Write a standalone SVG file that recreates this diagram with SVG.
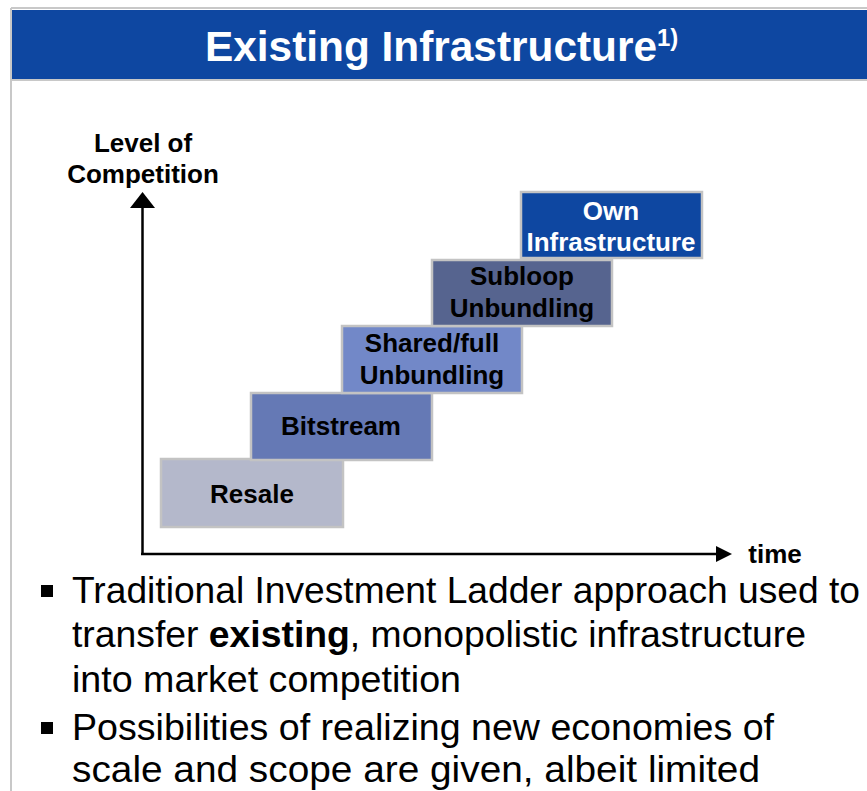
<svg xmlns="http://www.w3.org/2000/svg" width="867" height="791" viewBox="0 0 867 791">
<style>
.frame{stroke:#c8c8c8;stroke-width:2;fill:none}
.box{stroke:#c3c3c3;stroke-width:2.5}
.lbl{font-family:"Liberation Sans",Arial,sans-serif;font-weight:bold;font-size:26px;fill:#000;text-anchor:middle}
.wht{fill:#ffffff}
.body{font-family:"Liberation Sans",Arial,sans-serif;font-size:37px;fill:#000}
.axis{stroke:#000;stroke-width:2.5;fill:none}
</style>
<rect width="867" height="791" fill="#ffffff"/>
<g id="frame">
<line class="frame" x1="11" y1="8" x2="867" y2="8"/>
<line class="frame" x1="11" y1="8" x2="11" y2="791"/>
<rect x="12" y="10" width="855" height="69" fill="#0e47a1"/>
<line class="frame" x1="11" y1="80" x2="867" y2="80"/>
<text x="205" y="61" font-family="'Liberation Sans',Arial,sans-serif" font-weight="bold" font-size="42" fill="#ffffff"><tspan textLength="452" lengthAdjust="spacingAndGlyphs">Existing Infrastructure</tspan><tspan font-size="24" dy="-15">1)</tspan></text>
</g>
<g id="axes">
<line class="axis" x1="142.5" y1="555" x2="142.5" y2="206"/>
<polygon points="130,208 142.5,192 155,208" fill="#000"/>
<line class="axis" x1="141" y1="554" x2="718" y2="554"/>
<polygon points="716,546 732,554 716,562" fill="#000"/>
<text class="lbl" x="143" y="152">Level of</text>
<text class="lbl" x="143" y="183">Competition</text>
<text class="lbl" x="775" y="563" font-size="25">time</text>
</g>
<g id="resale">
<rect class="box" x="161" y="459" width="182" height="68" fill="#b4b8cb"/>
<text class="lbl" x="252" y="503">Resale</text>
</g>
<g id="bitstream">
<rect class="box" x="251" y="393" width="181" height="67" fill="#6579b5"/>
<text class="lbl" x="341" y="435">Bitstream</text>
</g>
<g id="shared">
<rect class="box" x="342" y="326" width="180" height="67" fill="#7288c8"/>
<text class="lbl" x="432" y="352">Shared/full</text>
<text class="lbl" x="432" y="384">Unbundling</text>
</g>
<g id="subloop">
<rect class="box" x="432" y="260" width="180" height="66" fill="#56648f"/>
<text class="lbl" x="522" y="285">Subloop</text>
<text class="lbl" x="522" y="317">Unbundling</text>
</g>
<g id="own">
<rect class="box" x="521" y="192" width="181" height="66" fill="#0e47a1"/>
<text class="lbl wht" x="611" y="220">Own</text>
<text class="lbl wht" x="611" y="251">Infrastructure</text>
</g>
<g id="bullets">
<rect x="41" y="585" width="12" height="12" fill="#000"/>
<text class="body" x="72" y="603" textLength="788" lengthAdjust="spacingAndGlyphs">Traditional Investment Ladder approach used to</text>
<text class="body" x="72" y="647" textLength="734" lengthAdjust="spacingAndGlyphs">transfer <tspan font-weight="bold">existing</tspan>, monopolistic infrastructure</text>
<text class="body" x="72" y="692" textLength="389" lengthAdjust="spacingAndGlyphs">into market competition</text>
<rect x="41" y="722" width="12" height="12" fill="#000"/>
<text class="body" x="72" y="740" textLength="702" lengthAdjust="spacingAndGlyphs">Possibilities of realizing new economies of</text>
<text class="body" x="72" y="782" textLength="688" lengthAdjust="spacingAndGlyphs">scale and scope are given, albeit limited</text>
</g>
</svg>
